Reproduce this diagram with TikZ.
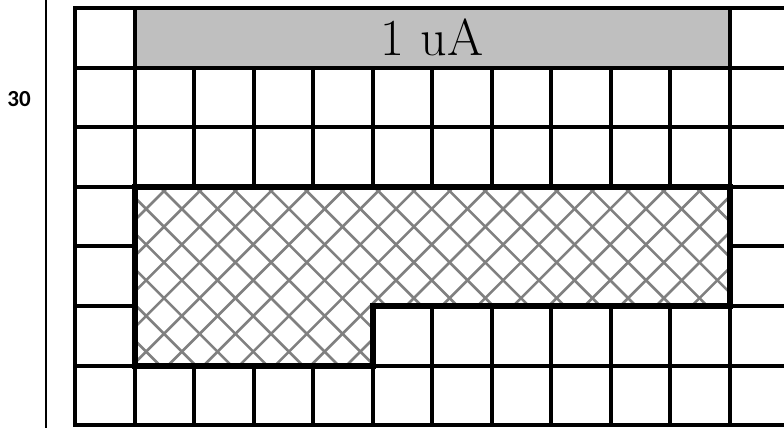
\documentclass[tikz,border=0pt]{standalone}
\usepackage{fontspec}
\newfontfamily\labelfont[BoldFont={Carlito Bold}]{Carlito}
\usetikzlibrary{calc}

\tikzset{
  gridline/.style={line width=4pt, line cap=rect},
  edgeline/.style={line width=6pt, line join=miter},
  hatchline/.style={draw=gray, line width=2.6pt},
  barbox/.style={draw, fill=gray!50, line width=4pt, inner sep=0pt,
    minimum width=595pt, minimum height=59.6pt,
    font=\fontsize{52}{60}\selectfont},
}

\begin{document}
\begin{tikzpicture}[x=59.5pt, y=-59.6pt]
\useasboundingbox (-75pt,8pt) rectangle (709pt,-420pt);
\clip (-75pt,8pt) rectangle (709pt,-420pt);
% row label and rule
\node[font={\fontsize{23}{27}\selectfont\labelfont\bfseries}] (rowlabel) at (-0.94,1.53) {30};
\draw[line width=1.5pt] (-0.49,-0.2) -- (-0.49,7.2);
% cell grid
\foreach \i in {0,...,12} \draw[gridline] (\i,0) -- (\i,7);
\foreach \j in {0,...,7} \draw[gridline] (0,\j) -- (12,\j);
% current bar
\node[barbox] (ua) at (6,0.5) {1 uA};
% hatched region
\begin{scope}
  \clip (1,3) -- (11,3) -- (11,5) -- (5,5) -- (5,6) -- (1,6) -- cycle;
  \fill[white] (1,3) rectangle (11,6);
  \foreach \n in {-6,...,22} {
    \draw[hatchline] ([xshift={84.8pt+35.7pt*\n}]0,3) -- ++(200pt,-200pt);
    \draw[hatchline] ([xshift={93.2pt+35.7pt*\n}]0,3) -- ++(-200pt,-200pt);
  }
\end{scope}
\draw[edgeline] (1,3) -- (11,3) -- (11,5) -- (5,5) -- (5,6) -- (1,6) -- cycle;
\end{tikzpicture}
\end{document}
